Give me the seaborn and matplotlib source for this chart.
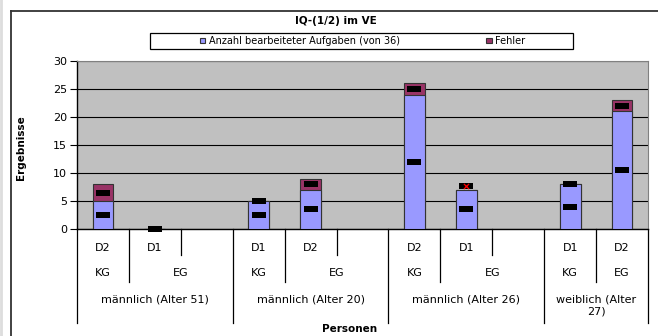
import textwrap
from itertools import groupby
import numpy as np
import pandas as pd
import matplotlib
matplotlib.use("Agg")
import matplotlib.pyplot as plt
import matplotlib.transforms as mtransforms
from matplotlib.patches import Patch, Rectangle
from matplotlib.lines import Line2D
import seaborn as sns

# data, one entry per category slot
dosis = ["D2", "D1", "", "D1", "D2", "", "D2", "D1", "", "D1", "D2"]
gruppe = ["KG", "EG", "EG", "KG", "EG", "EG", "KG", "EG", "EG", "KG", "EG"]
person = (["männlich (Alter 51)"] * 3 + ["männlich (Alter 20)"] * 3
          + ["männlich (Alter 26)"] * 3 + ["weiblich (Alter 27)"] * 2)
aufgaben = [5, 0, np.nan, 5, 7, np.nan, 24, 7, np.nan, 8, 21]
fehler = [3, 0, np.nan, 0, 2, np.nan, 2, 0, np.nan, 0, 2]
fehler_markiert = [False, False, False, False, False, False, False, True, False, False, False]
yticks = [0, 5, 10, 15, 20, 25, 30]

BLAU = "#9999FF"
ROT = "#993366"
W, H = 658, 336

df = pd.DataFrame({"slot": range(len(dosis)), "aufgaben": aufgaben, "fehler": fehler})
df["gesamt"] = df["aufgaben"] + df["fehler"]

plt.rcParams["font.family"] = ["DejaVu Sans"]
fig = plt.figure(figsize=(W / 100, H / 100), dpi=100)
ax = fig.add_axes([77 / W, 1 - 229 / H, 571 / W, 168 / H])
ax.set_facecolor("#C0C0C0")

# stacked bars: total in red, then the blue part on top
sns.barplot(data=df, x="slot", y="gesamt", color=ROT, saturation=1, width=0.4,
            edgecolor="#333333", linewidth=0.8, errorbar=None, ax=ax, zorder=3)
sns.barplot(data=df, x="slot", y="aufgaben", color=BLAU, saturation=1, width=0.4,
            edgecolor="#333333", linewidth=0.8, errorbar=None, ax=ax, zorder=3)

# black data label boxes in the middle of each segment
box = [(-1, -0.4), (1, -0.4), (1, 0.4), (-1, 0.4)]
for i, row in df.iterrows():
    if np.isnan(row["aufgaben"]):
        continue
    mitte_a = row["aufgaben"] / 2
    mitte_f = row["aufgaben"] + row["fehler"] / 2
    if fehler_markiert[i]:
        # flagged label sits just above the bar, with a red cross
        mitte_f += 0.6
        ax.scatter([i], [mitte_f], marker="x", s=14, color="red", linewidths=0.9,
                   zorder=6, clip_on=False)
    ax.scatter([i, i], [mitte_a, mitte_f], marker=box, s=88, color="black",
               linewidths=0, zorder=5, clip_on=False)

ax.set_ylim(0, 30)
ax.set_yticks(yticks)
ax.set_xlim(-0.5, len(dosis) - 0.5)
ax.set_xticks([])
ax.set_xlabel("")
ax.set_ylabel("")
ax.yaxis.grid(True, color="black", linewidth=0.8)
ax.set_axisbelow(True)
ax.tick_params(axis="y", labelsize=8, length=5, width=0.8, pad=2, color="black")
for s in ["left", "bottom"]:
    ax.spines[s].set_color("black")
    ax.spines[s].set_linewidth(1)
for s in ["top", "right"]:
    ax.spines[s].set_color("#808080")
    ax.spines[s].set_linewidth(0.8)

# multi level category axis
trans = mtransforms.blended_transform_factory(ax.transData, fig.transFigure)
def fy(px):
    return 1 - px / H

for i, d in enumerate(dosis):
    if d:
        ax.text(i, fy(248), d, transform=trans, ha="center", va="center", fontsize=8)

slots = list(range(len(dosis)))
for (p, g), grp in groupby(slots, key=lambda k: (person[k], gruppe[k])):
    grp = list(grp)
    ax.text((grp[0] + grp[-1]) / 2, fy(273), g, transform=trans, ha="center",
            va="center", fontsize=8)
for p, grp in groupby(slots, key=lambda k: person[k]):
    grp = list(grp)
    ax.text((grp[0] + grp[-1]) / 2, fy(294), textwrap.fill(p, 8 * len(grp)),
            transform=trans, ha="center", va="top", fontsize=8, linespacing=1.35)

for b in range(len(dosis) + 1):
    links, rechts = b - 1, b
    if links < 0 or rechts >= len(dosis) or person[links] != person[rechts]:
        ende = 323
    elif gruppe[links] != gruppe[rechts]:
        ende = 282
    else:
        ende = 255
    ax.add_line(Line2D([b - 0.5, b - 0.5], [fy(229), fy(ende)], transform=trans,
                       color="black", linewidth=0.9, clip_on=False))

# outer chart frame
fig.add_artist(Line2D([11 / W, 11 / W], [0, fy(11)], color="#333333", linewidth=1.3))
fig.add_artist(Line2D([11 / W, 1], [fy(11), fy(11)], color="#333333", linewidth=1.3))
fig.add_artist(Line2D([1 / W, 1 / W], [0, 1], color="#DDDDDD", linewidth=2))

# titles
fig.text(336 / W, fy(21), "IQ-(1/2) im VE", ha="center", va="center",
         fontsize=7.5, fontweight="bold")
fig.text(350 / W, fy(329), "Personen", ha="center", va="center",
         fontsize=7.5, fontweight="bold")
fig.text(21 / W, fy(148), "Ergebnisse", ha="center", va="center", rotation=90,
         fontsize=7.5, fontweight="bold")

# legend
fig.add_artist(Rectangle((150 / W, fy(49)), 423 / W, 16 / H, transform=fig.transFigure,
                         facecolor="white", edgecolor="black", linewidth=0.9))
handles = [Patch(facecolor=BLAU, edgecolor="#333333", linewidth=0.8),
           Patch(facecolor=ROT, edgecolor="#333333", linewidth=0.8)]
fig.legend(handles, ["Anzahl bearbeiteter Aufgaben (von 36)", "Fehler"],
           loc="center left", bbox_to_anchor=(200 / W, fy(41)), frameon=False,
           ncol=2, fontsize=7, handlelength=0.55, handleheight=0.55,
           handletextpad=0.35, columnspacing=8.9, borderpad=0, borderaxespad=0)

fig.savefig("out.png", dpi=100)
